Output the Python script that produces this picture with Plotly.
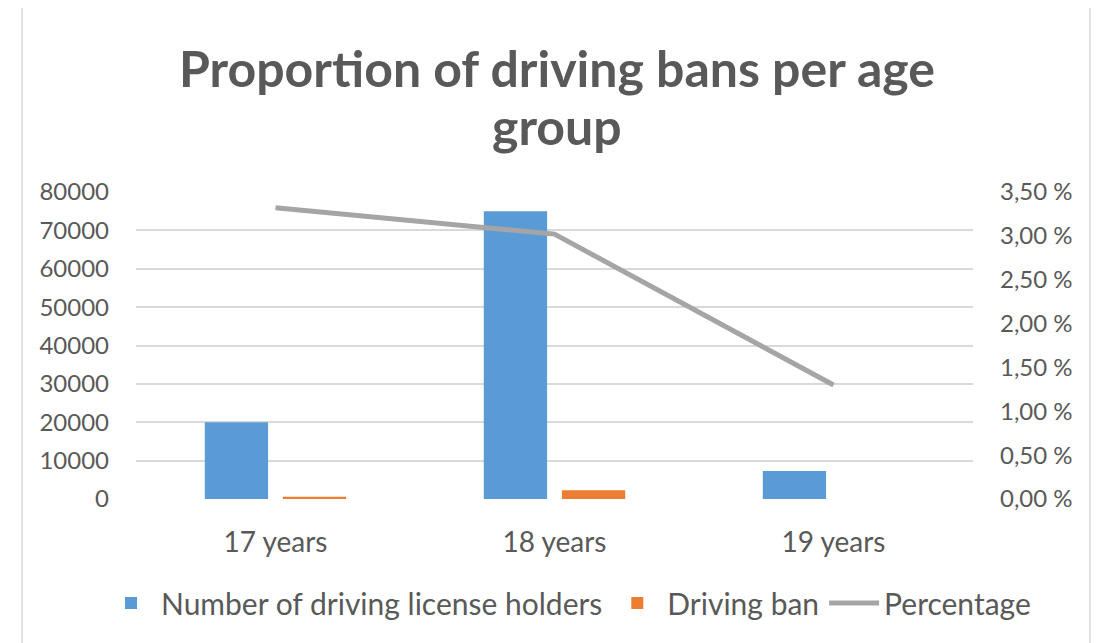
import plotly.graph_objects as go

categories = ["17 years", "18 years", "19 years"]
license_holders = [20000, 75000, 7300]
driving_ban = [600, 2300, 0]
percentage = [0.0332, 0.0302, 0.0130]

left_ticks = [0, 10000, 20000, 30000, 40000, 50000, 60000, 70000, 80000]
left_ticktext = ["0", "10000", "20000", "30000", "40000", "50000", "60000", "70000", "80000"]
right_tickvals = [0, 0.005, 0.01, 0.015, 0.02, 0.025, 0.03, 0.035]
right_ticktext = ["0,00 %", "0,50 %", "1,00 %", "1,50 %", "2,00 %", "2,50 %", "3,00 %", "3,50 %"]
title_lines = ["Proportion of driving bans per age", "group"]

FONT = "Lato"
GREY = "#595959"

# screen geometry (page has an 8px body margin)
OFF = 8
W, H = 1104, 643
PL, PR, PT, PB = 136, 973, 192, 499
PW, PH = PR - PL, PB - PT

def py(y):
    return (PB - y) / PH

def px(x):
    return (x - PL) / PW

fig = go.Figure()
fig.add_trace(go.Bar(x=categories, y=license_holders, name="Number of driving license holders",
                     marker=dict(color="#5b9bd5", line=dict(width=0))))
fig.add_trace(go.Bar(x=categories, y=driving_ban, name="Driving ban",
                     marker=dict(color="#ed7d31", line=dict(width=0))))
fig.add_trace(go.Scatter(x=categories, y=percentage, name="Percentage", yaxis="y2",
                         mode="lines", line=dict(color="#a5a5a5", width=5)))

fig.update_layout(
    width=W, height=H,
    margin=dict(l=PL - OFF, r=W - (PR - OFF), t=PT - OFF, b=H - (PB - OFF), autoexpand=False),
    paper_bgcolor="white", plot_bgcolor="white",
    barmode="group", bargap=0.44, bargroupgap=0.19,
    font=dict(family=FONT, color=GREY, size=20),
    xaxis=dict(showgrid=False, showline=False, ticks="", tickfont=dict(size=28, color=GREY),
               ticklabelstandoff=24),
    yaxis=dict(range=[0, 80000], tickvals=left_ticks, ticktext=left_ticktext, showgrid=True,
               gridcolor="#d9d9d9", gridwidth=1.5, zeroline=False, showline=False, ticks="",
               tickfont=dict(size=24, color=GREY), ticklabelstandoff=26),
    yaxis2=dict(range=[0, 0.035], overlaying="y", side="right", tickvals=right_tickvals,
                ticktext=right_ticktext, showgrid=False, zeroline=False, showline=False,
                ticks="", tickfont=dict(size=24, color=GREY), ticklabelstandoff=26),
    legend=dict(orientation="h", x=px(1036), xanchor="right", y=py(603), yanchor="middle",
                font=dict(size=30, color=GREY), itemwidth=50, traceorder="normal"),
    showlegend=True,
)

fig.add_annotation(text="<b>%s</b>" % title_lines[0], xref="paper", yref="paper",
                   x=px(557), y=py(68), xanchor="center", yanchor="middle", showarrow=False,
                   font=dict(family=FONT, size=50, color=GREY))
fig.add_annotation(text="<b>%s</b>" % title_lines[1], xref="paper", yref="paper",
                   x=px(557), y=py(126), xanchor="center", yanchor="middle", showarrow=False,
                   font=dict(family=FONT, size=50, color=GREY))

fig.add_shape(type="rect", xref="paper", yref="paper",
              x0=px(22), x1=px(1090), y0=py(700), y1=py(6),
              line=dict(color="#d9d9d9", width=1.5), fillcolor="rgba(0,0,0,0)", layer="below")

fig.write_html("out.html")
